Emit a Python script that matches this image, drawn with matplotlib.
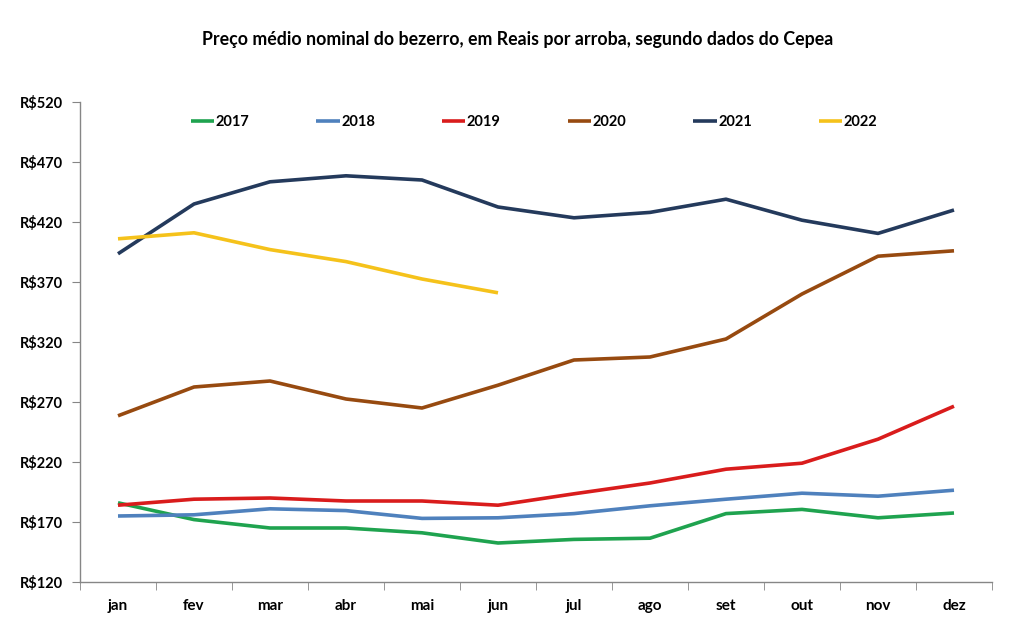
import matplotlib
matplotlib.use("Agg")
import matplotlib.pyplot as plt
from matplotlib.ticker import FuncFormatter, FixedLocator

months = ["jan", "fev", "mar", "abr", "mai", "jun", "jul", "ago", "set", "out", "nov", "dez"]
s2017 = [186, 172, 165, 165, 161, 152.5, 155.5, 156.5, 177, 180.5, 173.5, 177.5]
s2018 = [175, 176, 181, 179.5, 173, 173.5, 177, 183.5, 189, 194, 191.5, 196.5]
s2019 = [184, 189, 190, 187.5, 187.5, 184, 193.5, 202.5, 214, 219, 239, 266.5]
s2020 = [258.5, 282.5, 287.5, 272.5, 265, 284, 305, 307.5, 322.5, 360, 391.5, 396]
s2021 = [393.5, 435, 453.5, 458.5, 455, 432.5, 423.5, 428, 439, 421.5, 410.5, 430]
s2022 = [406, 411, 397, 387, 372.5, 361]

series = [("2017", s2017, "#1FA34F"), ("2018", s2018, "#4F81BD"), ("2019", s2019, "#D91C1C"),
          ("2020", s2020, "#974A10"), ("2021", s2021, "#243A5C"), ("2022", s2022, "#F5C21B")]

plt.rcParams['font.family'] = ['Lato', 'DejaVu Sans']
plt.rcParams['font.weight'] = 'bold'

W, H = 1012, 631
fig = plt.figure(figsize=(W / 100, H / 100), dpi=100)
ax = fig.add_axes([80 / W, 1 - 582 / H, (992 - 80) / W, (582 - 102) / H])

x = list(range(len(months)))
for name, vals, col in series:
    ax.plot(x[:len(vals)], vals, color=col, lw=2.6, label=name, solid_capstyle='butt')

ax.set_xlim(-0.5, 11.5)
ax.set_ylim(120, 520)
ax.set_yticks(range(120, 521, 50))
ax.yaxis.set_major_formatter(FuncFormatter(lambda v, p: f"R${int(v)}"))
ax.set_xticks(x)
ax.set_xticklabels(months)
ax.xaxis.set_minor_locator(FixedLocator([i - 0.5 for i in range(13)]))
ax.tick_params(axis='x', which='major', length=0, pad=12, labelsize=11)
ax.tick_params(axis='x', which='minor', length=6, direction='out', color='#868686')
ax.tick_params(axis='y', length=6, direction='out', color='#868686', labelsize=10.5, pad=6)
for lab in ax.get_xticklabels() + ax.get_yticklabels():
    lab.set_fontweight('bold')

for sp in ['top', 'right']:
    ax.spines[sp].set_visible(False)
for sp in ['left', 'bottom']:
    ax.spines[sp].set_color('#868686')
    ax.spines[sp].set_linewidth(1.0)

leg = ax.legend(loc='center', bbox_to_anchor=(534 / W, 1 - 122 / H), bbox_transform=fig.transFigure,
                ncol=6, frameon=False, handlelength=1.6, handletextpad=0.1, columnspacing=4.6,
                prop={'weight': 'bold', 'size': 10.5})

fig.text(518 / W, 1 - 40 / H, "Preço médio nominal do bezerro, em Reais por arroba, segundo dados do Cepea",
         ha='center', va='center', fontsize=12.8, fontweight='bold')

fig.savefig("out.png", dpi=100)
